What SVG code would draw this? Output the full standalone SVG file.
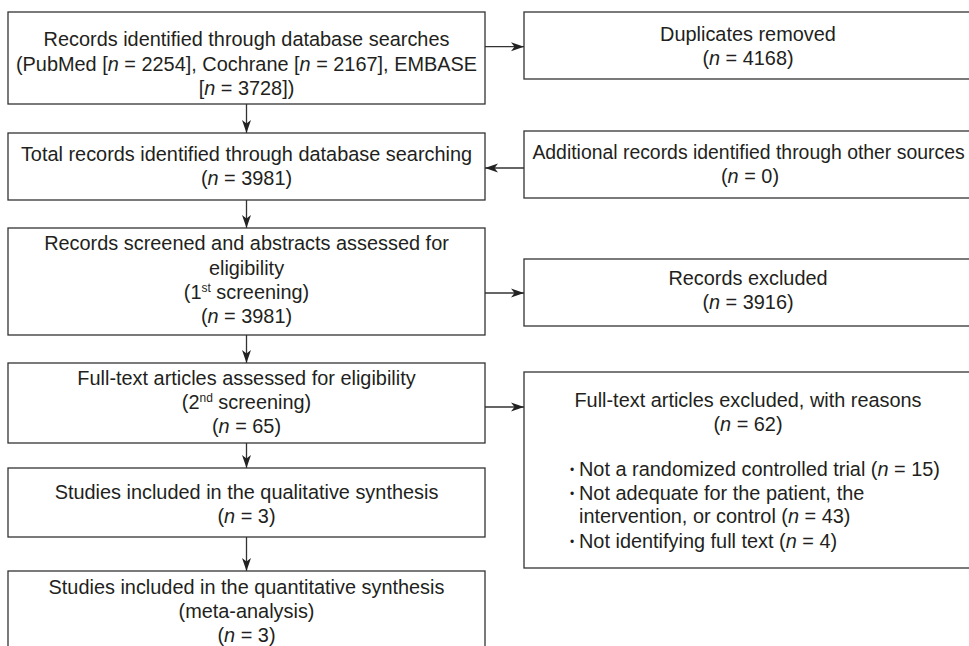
<svg xmlns="http://www.w3.org/2000/svg" width="969" height="646" viewBox="0 0 969 646">
<defs>
<marker id="ah" markerWidth="13" markerHeight="10" refX="13" refY="5" orient="auto" markerUnits="userSpaceOnUse">
<path d="M0,0.5 L13,5 L0,9.5 L3.5,5 z" fill="#222"/>
</marker>
<style>
.box{fill:#fff;stroke:#333;stroke-width:1.3}
.t{font-family:"Liberation Sans",Arial,sans-serif;font-size:19.9px;fill:#231f20;text-anchor:middle}
.l{font-family:"Liberation Sans",Arial,sans-serif;font-size:19.9px;fill:#231f20}
.b{font-family:"Liberation Sans",Arial,sans-serif;font-size:12px;fill:#231f20}
.c{fill:none;stroke:#333;stroke-width:1.3}
.i{font-style:italic}
.sup{font-size:12px}
</style>
</defs>
<rect width="969" height="646" fill="#fff"/>
<g id="connectors">
<path class="c" d="M485,46.7 H524" marker-end="url(#ah)"/>
<path class="c" d="M246.5,104 V133" marker-end="url(#ah)"/>
<path class="c" d="M524,168 H485" marker-end="url(#ah)"/>
<path class="c" d="M246.5,200 V228" marker-end="url(#ah)"/>
<path class="c" d="M485,293 H524" marker-end="url(#ah)"/>
<path class="c" d="M246.5,335 V363" marker-end="url(#ah)"/>
<path class="c" d="M485,407 H524" marker-end="url(#ah)"/>
<path class="c" d="M246.5,443 V468" marker-end="url(#ah)"/>
<path class="c" d="M246.5,537 V571" marker-end="url(#ah)"/>
</g>
<g id="n1">
<rect class="box" x="8" y="12" width="477" height="92"/>
<text class="t" x="246.5" y="45.5">Records identified through database searches</text>
<text class="t" x="246.5" y="70.5">(PubMed [<tspan class="i">n</tspan> = 2254], Cochrane [<tspan class="i">n</tspan> = 2167], EMBASE</text>
<text class="t" x="246.5" y="94.5">[<tspan class="i">n</tspan> = 3728])</text>
</g>
<g id="n2">
<rect class="box" x="524" y="12" width="452" height="67"/>
<text class="t" x="748" y="40.5">Duplicates removed</text>
<text class="t" x="748" y="64.5">(<tspan class="i">n</tspan> = 4168)</text>
</g>
<g id="n3">
<rect class="box" x="8" y="133" width="477" height="67"/>
<text class="t" x="246.5" y="160.5">Total records identified through database searching</text>
<text class="t" x="246.5" y="184.5">(<tspan class="i">n</tspan> = 3981)</text>
</g>
<g id="n4">
<rect class="box" x="524" y="131" width="452" height="67"/>
<text class="t" x="748.5" y="158.5" style="font-size:19.4px">Additional records identified through other sources</text>
<text class="t" x="750" y="182.5">(<tspan class="i">n</tspan> = 0)</text>
</g>
<g id="n5">
<rect class="box" x="8" y="228" width="477" height="107"/>
<text class="t" x="246.5" y="249.5">Records screened and abstracts assessed for</text>
<text class="t" x="246.5" y="274.5">eligibility</text>
<text class="t" x="246.5" y="298.5">(1<tspan class="sup" dy="-7">st</tspan><tspan dy="7"> screening)</tspan></text>
<text class="t" x="246.5" y="322.5">(<tspan class="i">n</tspan> = 3981)</text>
</g>
<g id="n6">
<rect class="box" x="524" y="259" width="452" height="67"/>
<text class="t" x="748" y="284.5">Records excluded</text>
<text class="t" x="748" y="308.5">(<tspan class="i">n</tspan> = 3916)</text>
</g>
<g id="n7">
<rect class="box" x="8" y="363" width="477" height="80"/>
<text class="t" x="246.5" y="384.5">Full-text articles assessed for eligibility</text>
<text class="t" x="246.5" y="408.5">(2<tspan class="sup" dy="-7">nd</tspan><tspan dy="7"> screening)</tspan></text>
<text class="t" x="246.5" y="432.5">(<tspan class="i">n</tspan> = 65)</text>
</g>
<g id="n8">
<rect class="box" x="524" y="372" width="452" height="196"/>
<text class="t" x="748" y="406.5">Full-text articles excluded, with reasons</text>
<text class="t" x="748" y="430.5">(<tspan class="i">n</tspan> = 62)</text>
<text class="b" x="570" y="474">•</text>
<text class="l" x="579" y="475.5">Not a randomized controlled trial (<tspan class="i">n</tspan> = 15)</text>
<text class="b" x="570" y="498">•</text>
<text class="l" x="579" y="499.5">Not adequate for the patient, the</text>
<text class="l" x="579" y="523">intervention, or control (<tspan class="i">n</tspan> = 43)</text>
<text class="b" x="570" y="546">•</text>
<text class="l" x="579" y="547.5">Not identifying full text (<tspan class="i">n</tspan> = 4)</text>
</g>
<g id="n9">
<rect class="box" x="8" y="468" width="477" height="69"/>
<text class="t" x="246.5" y="498.5">Studies included in the qualitative synthesis</text>
<text class="t" x="246.5" y="522.5">(<tspan class="i">n</tspan> = 3)</text>
</g>
<g id="n10">
<rect class="box" x="8" y="571" width="477" height="90"/>
<text class="t" x="246.5" y="593.5">Studies included in the quantitative synthesis</text>
<text class="t" x="246.5" y="617.5">(meta-analysis)</text>
<text class="t" x="246.5" y="641.5">(<tspan class="i">n</tspan> = 3)</text>
</g>
</svg>
